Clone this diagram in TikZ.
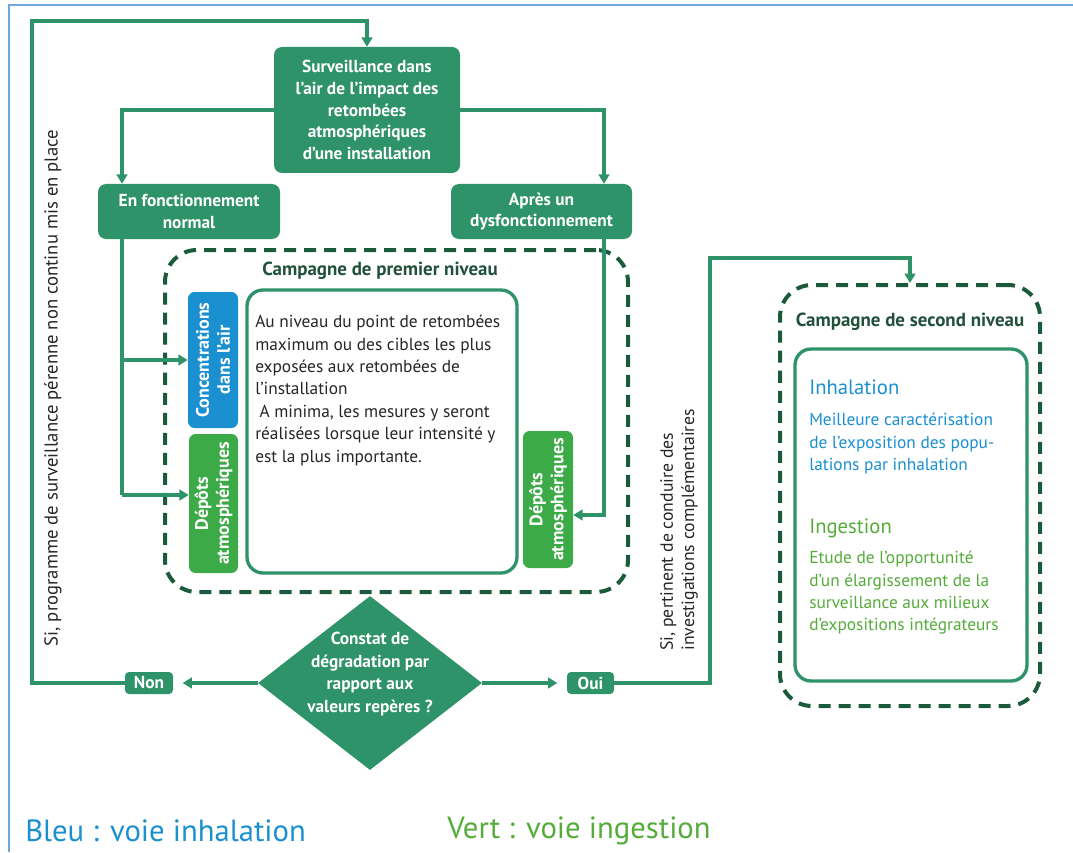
\documentclass[tikz,border=0pt]{standalone}
\usepackage{fontspec}
\setmainfont{PT Sans}
\usetikzlibrary{shapes.geometric,arrows.meta,calc}
\definecolor{mgreen}{HTML}{2F936A}
\definecolor{dkgreen}{HTML}{1C5A3C}
\definecolor{lgreen}{HTML}{3DAA48}
\definecolor{tgreen}{HTML}{55AC3A}
\definecolor{mblue}{HTML}{1B90D1}
\definecolor{bordercol}{HTML}{6FA8DC}
\definecolor{ttl}{HTML}{21503D}
\definecolor{body}{HTML}{262626}
\begin{document}
\begin{tikzpicture}[x=0.75pt,y=-0.75pt,
  gbox/.style={fill=mgreen, rounded corners=6pt, text=white, align=center, inner sep=0pt,
    font=\bfseries\fontsize{13}{16.3}\selectfont},
  smallbox/.style={fill=mgreen, rounded corners=3pt, text=white, inner sep=0pt,
    font=\bfseries\fontsize{13}{15}\selectfont},
  vbox/.style={rotate=90, rounded corners=5pt, text=white, align=center, inner sep=0pt,
    font=\bfseries\fontsize{13.5}{15.8}\selectfont},
  dashbox/.style={draw=dkgreen, line width=3pt, dash pattern=on 9pt off 6pt, rounded corners=24pt, inner sep=0pt},
  wbox/.style={draw=mgreen, line width=2.5pt, rounded corners=12pt, fill=white, inner sep=0pt},
  ttltext/.style={text=ttl, font=\bfseries\fontsize{14.2}{16}\selectfont, inner sep=0pt},
  bodytext/.style={text=body, align=left, inner sep=0pt, font=\fontsize{13}{16.8}\selectfont},
  conn/.style={draw=mgreen, line width=2.4pt},
  arr/.style={conn, -{Triangle[width=8pt,length=7pt]}},
]
\useasboundingbox (0,0) rectangle (1073,852);
\draw[bordercol, line width=1.3pt] (9,852) -- (9,5) -- (1073,5);

% top boxes
\node[gbox, minimum width=139.5pt, minimum height=94.5pt] (top) at (367,110)
  {Surveillance dans\\l’air de l’impact des\\retombées\\atmosphériques\\d’une installation};
\node[gbox, minimum width=136.5pt, minimum height=41.25pt] (enf) at (189,211.5)
  {En fonctionnement\\normal};
\node[gbox, minimum width=135.75pt, minimum height=41.25pt] (apres) at (541.5,211.5)
  {Après un\\dysfonctionnement};

% first level campaign
\node[dashbox, minimum width=347.25pt, minimum height=256.5pt] (camp1) at (396.5,421) {};
\node[ttltext] (t1) at (380,271) {Campagne de premier niveau};
\node[wbox, minimum width=202.5pt, minimum height=212.25pt] (mid) at (382,431.5) {};
\node[bodytext, anchor=north west] (midtxt) at (255,315)
  {Au niveau du point de retombées\\maximum ou des cibles les plus\\exposées aux retombées de\\l’installation\\\hspace{0.25em}A minima, les mesures y seront\\réalisées lorsque leur intensité y\\est la plus importante.};
\node[vbox, fill=mblue, minimum width=102pt, minimum height=37.5pt] (conc) at (213,360)
  {Concentrations\\dans l’air};
\node[vbox, fill=lgreen, minimum width=104.25pt, minimum height=36.75pt] (depL) at (213.5,503.5)
  {Dépôts\\atmosphériques};
\node[vbox, fill=lgreen, minimum width=102.75pt, minimum height=37.5pt] (depR) at (548,499.5)
  {Dépôts\\atmosphériques};

% decision
\node[diamond, fill=mgreen, minimum width=168pt, minimum height=130.5pt, inner sep=0pt] (dia) at (370,683) {};
\node[text=white, align=center, inner sep=0pt, font=\bfseries\fontsize{13}{16.8}\selectfont] (diatxt) at (370,674)
  {Constat de\\dégradation par\\rapport aux\\valeurs repères ?};
\node[smallbox, minimum width=36pt, minimum height=16.5pt] (non) at (149,683) {Non};
\node[smallbox, minimum width=35.25pt, minimum height=16.5pt] (oui) at (590.5,683) {Oui};

% second level campaign
\node[dashbox, minimum width=195pt, minimum height=315.75pt] (camp2) at (910,495.5) {};
\node[ttltext] (t2) at (910,322) {Campagne de second niveau};
\node[wbox, minimum width=174pt, minimum height=249pt] (inner2) at (911,515) {};
\node[anchor=north west, inner sep=0pt, text=mblue, font=\fontsize{15.5}{18}\selectfont] (inh) at (809,380) {Inhalation};
\node[anchor=north west, inner sep=0pt, text=mblue, align=left, font=\fontsize{13}{16.8}\selectfont] (inhtxt) at (809,413)
  {Meilleure caractérisation\\de l’exposition des popu-\\lations par inhalation};
\node[anchor=north west, inner sep=0pt, text=tgreen, font=\fontsize{15.5}{18}\selectfont] (ing) at (809,519) {Ingestion};
\node[anchor=north west, inner sep=0pt, text=tgreen, align=left, font=\fontsize{13}{16.8}\selectfont] (ingtxt) at (809,551)
  {Etude de l’opportunité\\d’un élargissement de la\\surveillance aux milieux\\d’expositions intégrateurs};

% side labels
\node[rotate=90, text=body, inner sep=0pt, font=\fontsize{14}{16}\selectfont] (lbl1) at (53,388)
  {Si, programme de surveillance pérenne non continu mis en place};
\node[rotate=90, text=body, inner sep=0pt, align=left, font=\fontsize{13.3}{16}\selectfont] (lbl2) at (679,530)
  {Si, pertinent de conduire des\\investigations complémentaires};

% legend
\node[anchor=west, inner sep=0pt, text=mblue, font=\fontsize{23}{27}\selectfont] (leg1) at (25,831) {Bleu : voie inhalation};
\node[anchor=west, inner sep=0pt, text=tgreen, font=\fontsize{23}{27}\selectfont] (leg2) at (447,831) {Vert : voie ingestion};

% connectors
\coordinate (trunkL) at (122,0);
\coordinate (trunkR) at (604,0);
\coordinate (loopL) at (32,21);
\coordinate (loopR) at (710,258);
\coordinate (aDL) at ($(depL.north)+(0,-8.5)$);
\coordinate (aDR) at ($(depR.south)+(0,15.5)$);

\draw[arr] (top.west) -| (enf.north -| trunkL);
\draw[arr] (top.east) -| (apres.north -| trunkR);
\draw[conn] (enf.south -| trunkL) -- (trunkL |- aDL);
\draw[arr] (trunkL |- conc.north) -- (conc.north);
\draw[arr] (trunkL |- aDL) -- (aDL);
\draw[arr] (apres.south -| trunkR) |- (aDR);
\draw[arr, shorten >=7pt] (dia.west) -- (non.east);
\draw[arr, shorten >=7pt] (dia.east) -- (oui.west);
\draw[arr] (non.west) -| (loopL) -| (top.north);
\draw[arr] (oui.east) -| (loopR) -| (camp2.north);
\end{tikzpicture}
\end{document}
